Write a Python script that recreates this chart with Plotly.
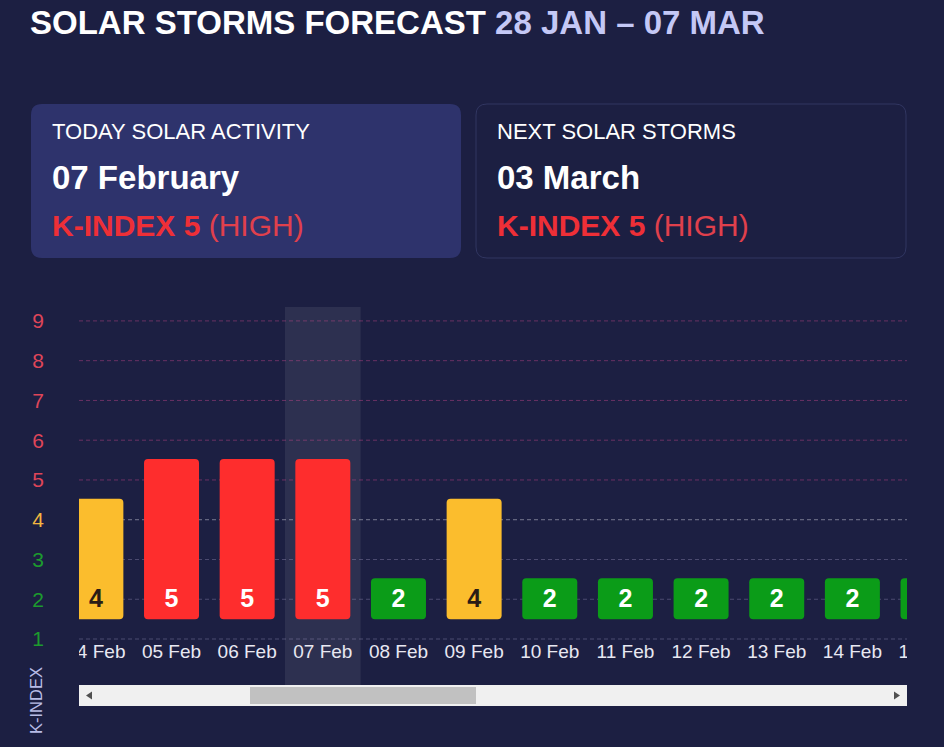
import plotly.graph_objects as go

# ---------------- data ----------------
dates = ["04 Feb", "05 Feb", "06 Feb", "07 Feb", "08 Feb", "09 Feb",
         "10 Feb", "11 Feb", "12 Feb", "13 Feb", "14 Feb", "15 Feb"]
kindex = [4, 5, 5, 5, 2, 4, 2, 2, 2, 2, 2, 2]
levels = [1, 2, 3, 4, 5, 6, 7, 8, 9]
today = "07 Feb"

title_main = "SOLAR STORMS FORECAST"
title_range = "28 JAN – 07 MAR"
card_today = ("TODAY SOLAR ACTIVITY", "07 February", 5, "HIGH")
card_next = ("NEXT SOLAR STORMS", "03 March", 5, "HIGH")

# ---------------- styles ----------------
BG = "#1c1f42"
CARD = "#2e336c"
FONT = "Arial, Liberation Sans, sans-serif"


def bar_color(v):
    if v >= 5:
        return "#fe2d2d"
    if v == 4:
        return "#fbbd2d"
    return "#0b9c18"


def label_color(v):
    if v >= 5:
        return "#de4559"
    if v == 4:
        return "#f2b540"
    return "#1c9b2e"


def grid_color(v):
    if v >= 5:
        return "rgba(200,70,140,0.45)"
    if v == 4:
        return "rgba(230,230,240,0.45)"
    return "rgba(190,180,220,0.30)"


def text_color(v):
    return "#2a1c16" if v == 4 else "#ffffff"


W, H = 944, 747
L, R, T, B = 79, 944, 307, 641


def px(x):
    return (x - L) / (R - L)


def py(y):
    return (B - y) / (B - T)


def rrect(x0, y0, x1, y1, r):
    rx = r / (R - L)
    ry = r / (B - T)
    X0, X1 = px(x0), px(x1)
    Y0, Y1 = py(y1), py(y0)
    return (f"M {X0+rx},{Y1} L {X1-rx},{Y1} Q {X1},{Y1} {X1},{Y1-ry} "
            f"L {X1},{Y0+ry} Q {X1},{Y0} {X1-rx},{Y0} L {X0+rx},{Y0} "
            f"Q {X0},{Y0} {X0},{Y0+ry} L {X0},{Y1-ry} Q {X0},{Y1} {X0+rx},{Y1} Z")


fig = go.Figure()

base_level = 1.5
fig.add_trace(go.Bar(
    x=dates,
    y=[v + 0.53 - base_level for v in kindex],
    base=base_level,
    marker=dict(color=[bar_color(v) for v in kindex], line=dict(width=0), cornerradius=4),
    width=0.727,
    hoverinfo="skip",
    showlegend=False,
))

fig.add_trace(go.Scatter(
    x=dates,
    y=[1.97] * len(dates),
    mode="text",
    text=[f"<b>{v}</b>" for v in kindex],
    textfont=dict(size=25, color=[text_color(v) for v in kindex], family=FONT),
    textposition="middle center",
    hoverinfo="skip",
    showlegend=False,
))

shapes = []
ti = dates.index(today)
shapes.append(dict(type="rect", xref="x", yref="paper", x0=ti - 0.5, x1=ti + 0.5,
                   y0=py(685), y1=1, fillcolor="rgba(255,255,255,0.08)",
                   line=dict(width=0), layer="below"))
for lv in levels:
    shapes.append(dict(type="line", xref="paper", yref="y", x0=0, x1=px(907),
                       y0=lv, y1=lv, line=dict(color=grid_color(lv), width=1, dash="4px,3px"),
                       layer="below"))
# viewport clipping of the scrolled chart
shapes.append(dict(type="rect", xref="paper", yref="paper", x0=px(907), x1=px(990),
                   y0=py(684), y1=py(295), fillcolor=BG, line=dict(width=0), layer="above"))
shapes.append(dict(type="rect", xref="paper", yref="paper", x0=px(47), x1=px(79),
                   y0=py(666), y1=py(643), fillcolor=BG, line=dict(width=0), layer="above"))
# scrollbar
shapes.append(dict(type="rect", xref="paper", yref="paper", x0=px(79), x1=px(907),
                   y0=py(706), y1=py(685), fillcolor="#f0f0f0", line=dict(width=0), layer="above"))
shapes.append(dict(type="rect", xref="paper", yref="paper", x0=px(250), x1=px(476),
                   y0=py(704), y1=py(687), fillcolor="#c1c1c1", line=dict(width=0), layer="above"))
shapes.append(dict(type="path", xref="paper", yref="paper",
                   path=f"M {px(86)},{py(695.5)} L {px(92)},{py(691.5)} L {px(92)},{py(699.5)} Z",
                   fillcolor="#505050", line=dict(width=0), layer="above"))
shapes.append(dict(type="path", xref="paper", yref="paper",
                   path=f"M {px(900)},{py(695.5)} L {px(894)},{py(691.5)} L {px(894)},{py(699.5)} Z",
                   fillcolor="#505050", line=dict(width=0), layer="above"))
# cards
shapes.append(dict(type="path", xref="paper", yref="paper", path=rrect(31, 104, 461, 258, 11),
                   fillcolor=CARD, line=dict(width=0), layer="below"))
shapes.append(dict(type="path", xref="paper", yref="paper", path=rrect(476, 104, 906, 258, 11),
                   fillcolor=BG, line=dict(color="#313661", width=1), layer="below"))

annotations = []
annotations.append(dict(
    xref="paper", yref="paper", x=px(28), y=py(22), xanchor="left", yanchor="middle",
    text=f"<b>{title_main} <span style='color:#c4c8f6'>{title_range}</span></b>",
    showarrow=False, font=dict(size=33, color="#ffffff", family=FONT)))

for (head, day, k, lvl), x0 in ((card_today, 53), (card_next, 498)):
    annotations.append(dict(xref="paper", yref="paper", x=px(x0 - 3), y=py(131),
                            xanchor="left", yanchor="middle", text=head, showarrow=False,
                            font=dict(size=22, color="#ffffff", family=FONT)))
    annotations.append(dict(xref="paper", yref="paper", x=px(x0 - 3), y=py(178),
                            xanchor="left", yanchor="middle", text=f"<b>{day}</b>", showarrow=False,
                            font=dict(size=33, color="#ffffff", family=FONT)))
    annotations.append(dict(xref="paper", yref="paper", x=px(x0 - 3), y=py(226),
                            xanchor="left", yanchor="middle",
                            text=f"<b>K-INDEX {k}</b> <span style='color:#e0404c'>({lvl})</span>",
                            showarrow=False, font=dict(size=30, color="#ee2f37", family=FONT)))

annotations.append(dict(xref="paper", yref="paper", x=px(36), y=py(701),
                        xanchor="center", yanchor="middle", text="K-INDEX", textangle=-90,
                        showarrow=False, font=dict(size=16.5, color="#b8bce6", family=FONT)))

fig.update_layout(
    width=W, height=H,
    margin=dict(l=L, r=W - R, t=T, b=H - B, pad=0, autoexpand=False),
    paper_bgcolor=BG,
    plot_bgcolor="rgba(0,0,0,0)",
    font=dict(family=FONT, color="#ffffff"),
    shapes=shapes,
    annotations=annotations,
    xaxis=dict(
        type="category",
        range=[-0.223, 11.211],
        automargin=False,
        showgrid=False, zeroline=False, showline=False, ticks="",
        ticklabelstandoff=-3,
        tickfont=dict(size=19, color="#e8e8f2", family=FONT),
        fixedrange=True,
    ),
    yaxis=dict(
        range=[0.95, 9.35],
        automargin=False,
        tickvals=levels,
        ticktext=[f"<span style='color:{label_color(v)}'>{v}</span>" for v in levels],
        showgrid=False, zeroline=False, showline=False, ticks="",
        ticklabelstandoff=34,
        tickfont=dict(size=21, family=FONT),
        fixedrange=True,
    ),
)

fig.write_html("out.html", config={"displayModeBar": False})
